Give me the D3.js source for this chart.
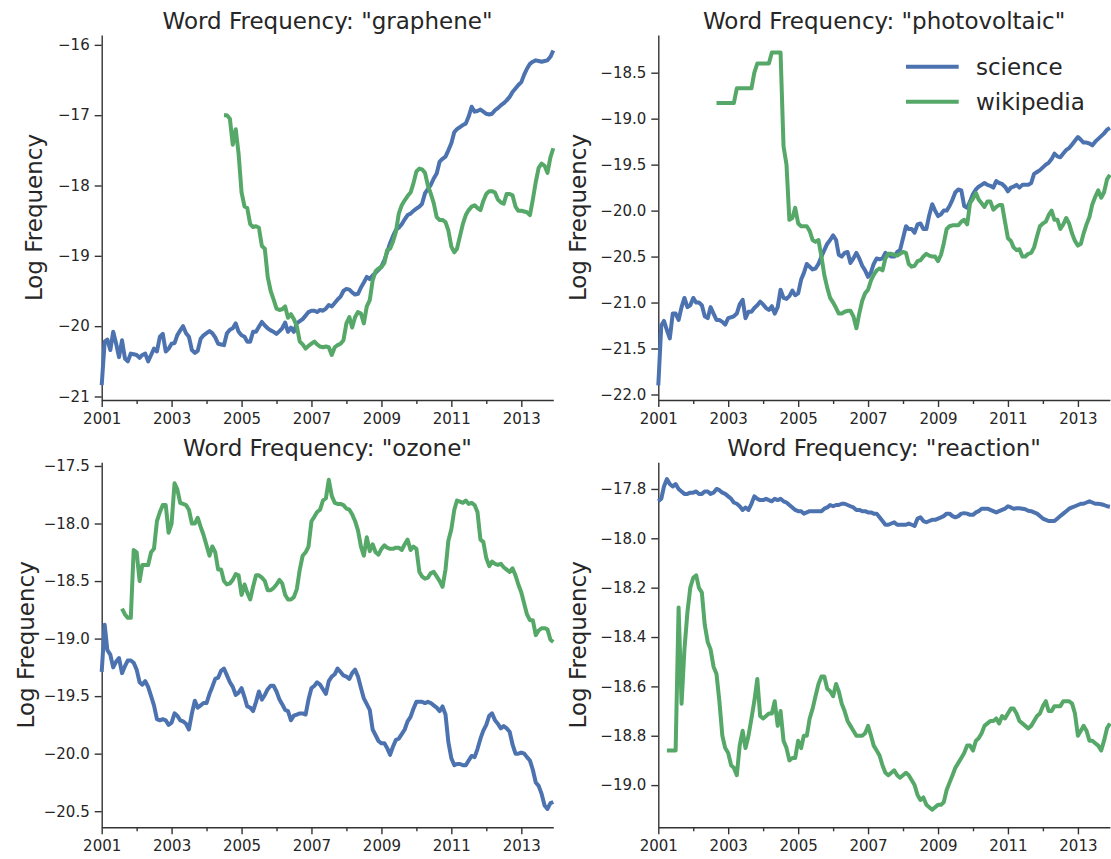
<!DOCTYPE html>
<html>
<head>
<meta charset="utf-8">
<script src="https://cdn.jsdelivr.net/npm/d3@7/dist/d3.min.js"></script>
<style>
  html, body { margin: 0; padding: 0; background: #fff; }
  svg { display: block; font-family: "DejaVu Sans", sans-serif; }
</style>
</head>
<body>
<svg id="chart" width="1111" height="859"></svg>
<script>
// ---- data (monthly, Jan 2001 .. Dec 2013) ----
const firstMonth = [2001, 0];
const seriesNames = ["science", "wikipedia"];
const seriesColors = ["#4c72b0", "#55a868"];

const grapheneScience = [
  -20.84,-20.22,-20.19,-20.34,-20.08,-20.25,-20.44,-20.2,-20.46,-20.5,-20.39,-20.4,
  -20.41,-20.45,-20.41,-20.39,-20.5,-20.41,-20.32,-20.36,-20.15,-20.11,-20.36,-20.32,
  -20.25,-20.24,-20.13,-20.06,-20.0,-20.1,-20.15,-20.34,-20.38,-20.35,-20.18,-20.13,
  -20.1,-20.07,-20.1,-20.16,-20.25,-20.26,-20.27,-20.1,-20.05,-20.03,-19.96,-20.08,
  -20.13,-20.15,-20.22,-20.22,-20.08,-20.08,-20.01,-19.94,-19.99,-20.03,-20.06,-20.08,
  -20.11,-20.07,-20.03,-19.95,-20.08,-20.02,-20.08,-19.96,-19.93,-19.9,-19.85,-19.8,
  -19.78,-19.78,-19.8,-19.77,-19.78,-19.75,-19.7,-19.72,-19.67,-19.62,-19.58,-19.5,
  -19.47,-19.48,-19.52,-19.55,-19.54,-19.45,-19.38,-19.3,-19.33,-19.28,-19.24,-19.2,
  -19.15,-19.06,-18.95,-18.82,-18.72,-18.63,-18.6,-18.55,-18.48,-18.42,-18.4,-18.36,
  -18.33,-18.3,-18.26,-18.11,-18.05,-17.99,-17.9,-17.83,-17.66,-17.62,-17.59,-17.5,
  -17.4,-17.24,-17.2,-17.17,-17.14,-17.12,-17.02,-16.88,-16.95,-16.94,-16.92,-16.95,
  -16.98,-16.99,-16.98,-16.93,-16.9,-16.86,-16.83,-16.79,-16.74,-16.67,-16.62,-16.57,
  -16.53,-16.42,-16.34,-16.27,-16.24,-16.22,-16.23,-16.24,-16.23,-16.22,-16.17,-16.08
];
const grapheneWikiStart = 42; // Jul 2004
const grapheneWiki = [
  -17.0,-17.0,-17.05,-17.42,-17.2,-17.55,
  -18.1,-18.3,-18.32,-18.55,-18.59,-18.58,-18.6,-18.86,-18.9,-19.3,-19.5,-19.62,
  -19.75,-19.77,-19.76,-19.72,-19.88,-19.83,-19.9,-20.0,-20.22,-20.26,-20.32,-20.28,
  -20.25,-20.22,-20.26,-20.29,-20.3,-20.29,-20.3,-20.41,-20.3,-20.27,-20.25,-20.2,
  -19.96,-19.87,-20.02,-19.87,-19.8,-19.82,-19.96,-19.72,-19.63,-19.35,-19.22,-19.18,
  -19.16,-19.1,-18.92,-18.9,-18.8,-18.66,-18.4,-18.28,-18.21,-18.15,-18.1,-17.97,
  -17.8,-17.76,-17.77,-17.82,-18.0,-18.12,-18.25,-18.45,-18.49,-18.49,-18.52,-18.64,
  -18.87,-18.95,-18.9,-18.72,-18.55,-18.42,-18.35,-18.3,-18.28,-18.32,-18.35,-18.22,
  -18.12,-18.08,-18.08,-18.1,-18.2,-18.24,-18.26,-18.12,-18.12,-18.14,-18.3,-18.36,
  -18.36,-18.37,-18.38,-18.42,-18.2,-17.95,-17.75,-17.69,-17.72,-17.82,-17.6,-17.47
];

const pvScience = [
  -21.9,-21.25,-21.2,-21.3,-21.39,-21.12,-21.12,-21.19,-21.05,-20.95,-21.05,-21.03,
  -20.95,-21.0,-21.0,-21.03,-21.15,-21.17,-21.05,-21.12,-21.19,-21.19,-21.21,-21.24,
  -21.17,-21.16,-21.15,-21.12,-21.02,-20.97,-21.17,-21.1,-21.1,-21.06,-21.03,-20.99,
  -21.02,-21.06,-21.08,-21.04,-21.12,-21.05,-20.86,-20.95,-20.96,-20.93,-20.87,-20.92,
  -20.9,-20.75,-20.68,-20.58,-20.61,-20.64,-20.63,-20.58,-20.5,-20.43,-20.36,-20.32,
  -20.27,-20.32,-20.48,-20.5,-20.46,-20.45,-20.57,-20.52,-20.46,-20.52,-20.6,-20.65,
  -20.72,-20.67,-20.58,-20.52,-20.53,-20.52,-20.46,-20.48,-20.5,-20.5,-20.45,-20.43,
  -20.3,-20.17,-20.2,-20.2,-20.24,-20.15,-20.14,-20.2,-20.2,-20.05,-19.93,-20.0,
  -20.06,-20.04,-20.0,-20.0,-19.95,-19.88,-19.8,-19.77,-19.78,-19.95,-19.97,-19.9,
  -19.82,-19.77,-19.74,-19.72,-19.7,-19.72,-19.73,-19.75,-19.68,-19.7,-19.71,-19.74,
  -19.79,-19.75,-19.74,-19.72,-19.75,-19.72,-19.72,-19.72,-19.7,-19.6,-19.58,-19.56,
  -19.53,-19.5,-19.48,-19.44,-19.38,-19.41,-19.42,-19.38,-19.34,-19.32,-19.28,-19.24,
  -19.2,-19.23,-19.26,-19.26,-19.27,-19.29,-19.25,-19.22,-19.19,-19.16,-19.12,-19.1
];
const pvWikiStart = 20; // Sep 2002
const pvWiki = [
  -18.83,-18.83,-18.83,-18.83,
  -18.83,-18.83,-18.83,-18.67,-18.67,-18.67,-18.67,-18.67,-18.67,-18.5,-18.4,-18.4,
  -18.4,-18.4,-18.4,-18.28,-18.28,-18.28,-18.28,-19.3,-19.5,-20.1,-20.08,-19.97,
  -20.14,-20.17,-20.17,-20.17,-20.22,-20.32,-20.34,-20.32,-20.5,-20.7,-20.84,-20.95,
  -21.0,-21.06,-21.12,-21.12,-21.1,-21.09,-21.09,-21.15,-21.28,-21.12,-20.98,-20.9,
  -20.86,-20.76,-20.7,-20.65,-20.63,-20.65,-20.52,-20.47,-20.47,-20.48,-20.49,-20.47,
  -20.45,-20.46,-20.58,-20.61,-20.6,-20.55,-20.54,-20.5,-20.47,-20.49,-20.5,-20.5,
  -20.55,-20.48,-20.36,-20.2,-20.17,-20.16,-20.16,-20.16,-20.12,-20.1,-20.15,-19.92,
  -19.87,-19.81,-19.88,-19.92,-19.96,-19.9,-19.9,-19.99,-19.96,-19.94,-19.94,-20.12,
  -20.3,-20.33,-20.4,-20.43,-20.42,-20.5,-20.5,-20.47,-20.46,-20.4,-20.28,-20.17,
  -20.14,-20.12,-20.05,-20.0,-20.1,-20.1,-20.2,-20.15,-20.08,-20.14,-20.25,-20.33,
  -20.38,-20.36,-20.25,-20.15,-20.07,-19.93,-19.85,-19.78,-19.86,-19.8,-19.66,-19.61
];

const ozoneScience = [
  -19.29,-18.88,-19.1,-19.14,-19.25,-19.2,-19.17,-19.3,-19.24,-19.19,-19.19,-19.21,
  -19.27,-19.38,-19.4,-19.37,-19.42,-19.5,-19.58,-19.7,-19.71,-19.7,-19.71,-19.75,
  -19.73,-19.65,-19.67,-19.71,-19.72,-19.74,-19.79,-19.65,-19.54,-19.6,-19.58,-19.56,
  -19.56,-19.48,-19.42,-19.35,-19.34,-19.28,-19.26,-19.32,-19.38,-19.42,-19.49,-19.47,
  -19.43,-19.51,-19.59,-19.6,-19.63,-19.55,-19.46,-19.53,-19.49,-19.44,-19.41,-19.41,
  -19.46,-19.53,-19.57,-19.62,-19.63,-19.71,-19.67,-19.66,-19.65,-19.65,-19.66,-19.53,
  -19.43,-19.41,-19.38,-19.4,-19.44,-19.48,-19.37,-19.33,-19.31,-19.26,-19.29,-19.32,
  -19.33,-19.35,-19.3,-19.27,-19.33,-19.43,-19.52,-19.57,-19.62,-19.79,-19.84,-19.89,
  -19.91,-19.91,-19.95,-20.01,-19.94,-19.88,-19.87,-19.83,-19.79,-19.72,-19.68,-19.61,
  -19.55,-19.55,-19.55,-19.56,-19.55,-19.56,-19.58,-19.6,-19.63,-19.59,-19.66,-19.9,
  -20.04,-20.1,-20.09,-20.09,-20.1,-20.1,-20.06,-20.02,-20.03,-19.96,-19.87,-19.8,
  -19.75,-19.67,-19.65,-19.71,-19.74,-19.78,-19.76,-19.78,-19.81,-19.92,-20.0,-20.0,
  -19.99,-20.0,-20.03,-20.06,-20.14,-20.25,-20.28,-20.35,-20.45,-20.48,-20.43,-20.42
];
const ozoneWikiStart = 7; // Aug 2001
const ozoneWiki = [
  -18.74,-18.79,-18.82,-18.82,-18.23,
  -18.25,-18.5,-18.36,-18.36,-18.36,-18.25,-18.22,-17.98,-17.9,-17.84,-17.84,-18.08,
  -18.0,-17.65,-17.7,-17.82,-17.83,-17.84,-17.88,-18.0,-18.0,-17.95,-18.03,-18.1,
  -18.19,-18.28,-18.2,-18.25,-18.4,-18.4,-18.5,-18.53,-18.52,-18.49,-18.44,-18.45,
  -18.62,-18.53,-18.6,-18.66,-18.55,-18.45,-18.45,-18.47,-18.5,-18.58,-18.58,-18.56,
  -18.53,-18.49,-18.52,-18.62,-18.66,-18.66,-18.64,-18.57,-18.4,-18.28,-18.25,-18.2,
  -17.98,-17.94,-17.9,-17.88,-17.8,-17.78,-17.62,-17.76,-17.82,-17.83,-17.83,-17.84,
  -17.87,-17.88,-17.92,-17.98,-18.06,-18.2,-18.28,-18.12,-18.24,-18.18,-18.25,-18.27,
  -18.22,-18.19,-18.21,-18.22,-18.22,-18.21,-18.21,-18.23,-18.18,-18.14,-18.23,-18.2,
  -18.22,-18.42,-18.46,-18.48,-18.47,-18.43,-18.42,-18.46,-18.5,-18.55,-18.4,-18.15,
  -18.05,-17.88,-17.8,-17.81,-17.82,-17.8,-17.83,-17.82,-17.84,-17.9,-18.14,-18.16,
  -18.3,-18.37,-18.33,-18.35,-18.36,-18.35,-18.38,-18.4,-18.42,-18.39,-18.45,-18.53,
  -18.6,-18.7,-18.79,-18.84,-18.84,-18.97,-18.93,-18.91,-18.91,-18.92,-19.01,-19.03
];

const reactionScience = [
  -17.85,-17.84,-17.79,-17.76,-17.78,-17.79,-17.78,-17.8,-17.81,-17.82,-17.82,-17.815,
  -17.815,-17.81,-17.82,-17.82,-17.81,-17.81,-17.82,-17.815,-17.8,-17.805,-17.815,-17.82,
  -17.83,-17.84,-17.855,-17.86,-17.87,-17.885,-17.875,-17.885,-17.86,-17.83,-17.84,-17.845,
  -17.845,-17.84,-17.845,-17.85,-17.84,-17.845,-17.84,-17.85,-17.855,-17.865,-17.875,-17.885,
  -17.89,-17.89,-17.9,-17.895,-17.89,-17.89,-17.89,-17.89,-17.89,-17.88,-17.875,-17.865,
  -17.87,-17.865,-17.865,-17.86,-17.86,-17.865,-17.87,-17.875,-17.885,-17.885,-17.89,-17.89,
  -17.895,-17.895,-17.9,-17.9,-17.915,-17.93,-17.945,-17.945,-17.94,-17.935,-17.945,-17.945,
  -17.945,-17.945,-17.94,-17.945,-17.95,-17.92,-17.915,-17.93,-17.935,-17.93,-17.925,-17.925,
  -17.92,-17.915,-17.91,-17.9,-17.9,-17.91,-17.915,-17.91,-17.9,-17.898,-17.9,-17.905,
  -17.905,-17.895,-17.89,-17.88,-17.88,-17.88,-17.885,-17.89,-17.895,-17.89,-17.885,-17.88,
  -17.87,-17.875,-17.88,-17.878,-17.878,-17.88,-17.882,-17.888,-17.89,-17.895,-17.9,-17.91,
  -17.92,-17.925,-17.93,-17.93,-17.93,-17.92,-17.91,-17.9,-17.89,-17.88,-17.875,-17.87,
  -17.865,-17.86,-17.86,-17.855,-17.85,-17.855,-17.86,-17.86,-17.862,-17.865,-17.87,-17.872
];
const reactionWikiStart = 3; // Apr 2001
const reactionWiki = [
  -18.86,-18.86,-18.86,-18.86,-18.28,-18.67,-18.45,-18.3,-18.2,
  -18.16,-18.15,-18.2,-18.22,-18.35,-18.42,-18.45,-18.52,-18.55,-18.66,-18.8,-18.85,
  -18.87,-18.92,-18.93,-18.96,-18.84,-18.78,-18.85,-18.8,-18.73,-18.66,-18.57,-18.72,
  -18.73,-18.72,-18.71,-18.71,-18.66,-18.76,-18.7,-18.82,-18.85,-18.9,-18.89,-18.89,
  -18.82,-18.85,-18.8,-18.8,-18.73,-18.69,-18.64,-18.59,-18.56,-18.56,-18.61,-18.62,
  -18.64,-18.59,-18.62,-18.67,-18.7,-18.74,-18.76,-18.78,-18.8,-18.8,-18.8,-18.79,
  -18.76,-18.8,-18.84,-18.86,-18.88,-18.92,-18.95,-18.96,-18.95,-18.94,-18.96,-18.97,
  -18.96,-18.95,-18.96,-18.98,-19.0,-19.04,-19.06,-19.05,-19.08,-19.09,-19.1,-19.09,
  -19.08,-19.08,-19.07,-19.02,-18.99,-18.96,-18.93,-18.91,-18.89,-18.87,-18.84,-18.84,
  -18.86,-18.82,-18.81,-18.79,-18.76,-18.75,-18.74,-18.74,-18.73,-18.75,-18.72,-18.73,
  -18.71,-18.69,-18.69,-18.71,-18.74,-18.75,-18.76,-18.77,-18.76,-18.74,-18.72,-18.71,
  -18.68,-18.66,-18.7,-18.7,-18.68,-18.68,-18.68,-18.66,-18.66,-18.66,-18.67,-18.71,
  -18.8,-18.78,-18.76,-18.78,-18.82,-18.82,-18.83,-18.84,-18.86,-18.82,-18.77,-18.75
];

const panelWords = ["graphene", "photovoltaic", "ozone", "reaction"];
const yTicksGraphene = [-21, -20, -19, -18, -17, -16];
const yTicksPv = [-22.0, -21.5, -21.0, -20.5, -20.0, -19.5, -19.0, -18.5];
const yTicksOzone = [-20.5, -20.0, -19.5, -19.0, -18.5, -18.0, -17.5];
const yTicksReaction = [-19.0, -18.8, -18.6, -18.4, -18.2, -18.0, -17.8];
const xMajorYears = [2001, 2003, 2005, 2007, 2009, 2011, 2013];
const xMinorYears = [2002, 2004, 2006, 2008, 2010, 2012];

// ---- layout ----
const svg = d3.select("#chart");
const W = 451.6, H = 365;
const cols = [101.7, 658.3];
const rows = [35, 462.3];
const textColor = "#262626";

const panels = [
  { word: panelWords[0], sci: grapheneScience, wiki: grapheneWiki, wikiStart: grapheneWikiStart,
    yDomain: [-21.05, -15.86], yTicks: yTicksGraphene, fmt: d3.format("d"), col: 0, row: 0 },
  { word: panelWords[1], sci: pvScience, wiki: pvWiki, wikiStart: pvWikiStart,
    yDomain: [-22.06, -18.09], yTicks: yTicksPv, fmt: d3.format(".1f"), col: 1, row: 0, legend: true },
  { word: panelWords[2], sci: ozoneScience, wiki: ozoneWiki, wikiStart: ozoneWikiStart,
    yDomain: [-20.64, -17.468], yTicks: yTicksOzone, fmt: d3.format(".1f"), col: 0, row: 1 },
  { word: panelWords[3], sci: reactionScience, wiki: reactionWiki, wikiStart: reactionWikiStart,
    yDomain: [-19.171, -17.692], yTicks: yTicksReaction, fmt: d3.format(".1f"), col: 1, row: 1 }
];

const monthDate = i => new Date(firstMonth[0], firstMonth[1] + i, 1);

panels.forEach(p => {
  const x0 = cols[p.col], y0 = rows[p.row];
  const g = svg.append("g").attr("transform", `translate(${x0},${y0})`);
  const x = d3.scaleTime().domain([monthDate(0), monthDate(155)]).range([0, W]);
  const y = d3.scaleLinear().domain(p.yDomain).range([H, 0]);

  // y axis
  const ya = g.append("g").call(
    d3.axisLeft(y).tickValues(p.yTicks).tickFormat(p.fmt).tickSize(7).tickPadding(5).tickSizeOuter(0)
  );
  // x axis major
  const xa = g.append("g").attr("transform", `translate(0,${H})`).call(
    d3.axisBottom(x).tickValues(xMajorYears.map(yr => new Date(yr, 0, 1)))
      .tickFormat(d3.timeFormat("%Y")).tickSize(7).tickPadding(6).tickSizeOuter(0)
  );
  // x axis minor
  const xm = g.append("g").attr("transform", `translate(0,${H})`).call(
    d3.axisBottom(x).tickValues(xMinorYears.map(yr => new Date(yr, 0, 1)))
      .tickFormat("").tickSize(4).tickSizeOuter(0)
  );
  xm.select(".domain").remove();
  [ya, xa, xm].forEach(a => {
    a.selectAll(".domain").attr("stroke", "#333").attr("stroke-width", 1.4);
    a.selectAll(".tick line").attr("stroke", "#333").attr("stroke-width", 1.4);
    a.selectAll(".tick text").attr("fill", textColor)
      .style("font-family", "'DejaVu Sans', sans-serif").style("font-size", "15px");
  });

  // lines
  const line = d3.line().defined(d => d.v != null).x(d => x(d.t)).y(d => y(d.v));
  const sciData = p.sci.map((v, i) => ({ t: monthDate(i), v }));
  const wikiData = p.wiki.map((v, i) => ({ t: monthDate(p.wikiStart + i), v }));
  [sciData, wikiData].forEach((data, k) => {
    g.append("path").datum(data).attr("d", line)
      .attr("fill", "none").attr("stroke", seriesColors[k])
      .attr("stroke-width", 4).attr("stroke-linejoin", "round").attr("stroke-linecap", "butt");
  });

  // title
  g.append("text").attr("x", W / 2).attr("y", -6).attr("text-anchor", "middle")
    .attr("fill", textColor).style("font-size", "23px")
    .text(`Word Frequency: "${p.word}"`);

  // y label
  const labelX = p.col === 0 ? (p.row === 0 ? -60 : -68) : -72;
  g.append("text").attr("transform", `translate(${labelX},${H / 2}) rotate(-90)`)
    .attr("text-anchor", "middle").attr("fill", textColor).style("font-size", "23px")
    .text("Log Frequency");

  // legend
  if (p.legend) {
    seriesNames.forEach((name, k) => {
      const ly = 31.7 + k * 35;
      g.append("line").attr("x1", 906 - x0).attr("x2", 958.7 - x0).attr("y1", ly).attr("y2", ly)
        .attr("stroke", seriesColors[k]).attr("stroke-width", 4);
      g.append("text").attr("x", 976 - x0).attr("y", ly).attr("dy", "0.35em")
        .attr("fill", textColor).style("font-size", "23px").text(name);
    });
  }
});
</script>
</body>
</html>
